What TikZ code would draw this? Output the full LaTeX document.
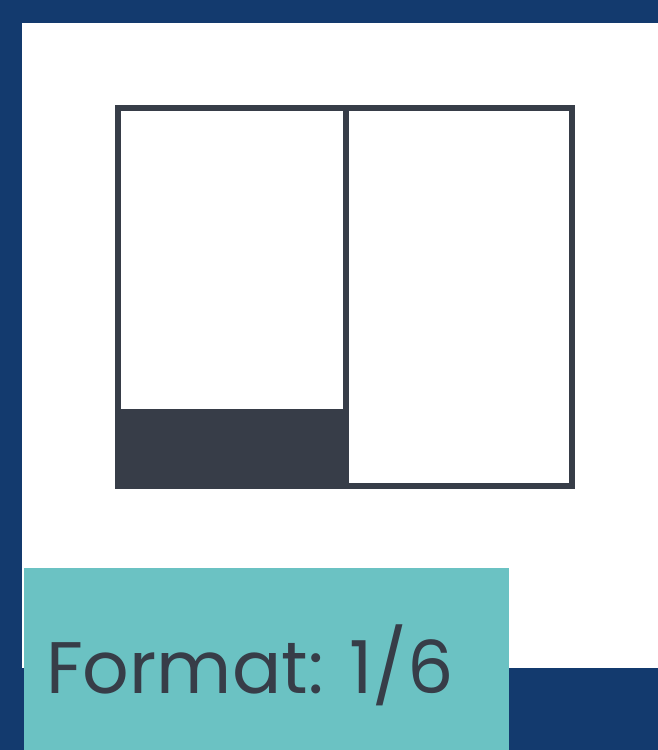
\documentclass[tikz,border=0pt]{standalone}
\usepackage{fontspec}
\setmainfont{Poppins}
\definecolor{frameblue}{HTML}{133A6E}
\definecolor{tealbox}{HTML}{6BC2C3}
\definecolor{ink}{HTML}{373D48}
\tikzset{
  panel/.style={draw=ink, line width=6pt},
  shade/.style={fill=ink, draw=none},
  label/.style={text=ink, inner sep=0pt, anchor=base west, font=\fontsize{73}{73}\selectfont}
}
\begin{document}
\begin{tikzpicture}[x=1pt,y=-1pt]
  \useasboundingbox (0,0) rectangle (658,750);
  % frame
  \fill[frameblue] (0,0) rectangle (658,750);
  \fill[white] (22,23) rectangle (658,668);
  % layout sketch
  \fill[shade] (115.3,409) rectangle (348.7,488.7);
  \draw[panel] (118.3,107.7) rectangle (572.3,485.7);
  \draw[panel] (345.5,107.7) -- (345.5,485.7);
  % caption
  \fill[tealbox] (24,568) rectangle (509,750);
  \node[label] (fmt) at (46,693) {Format: 1/6};
\end{tikzpicture}
\end{document}
